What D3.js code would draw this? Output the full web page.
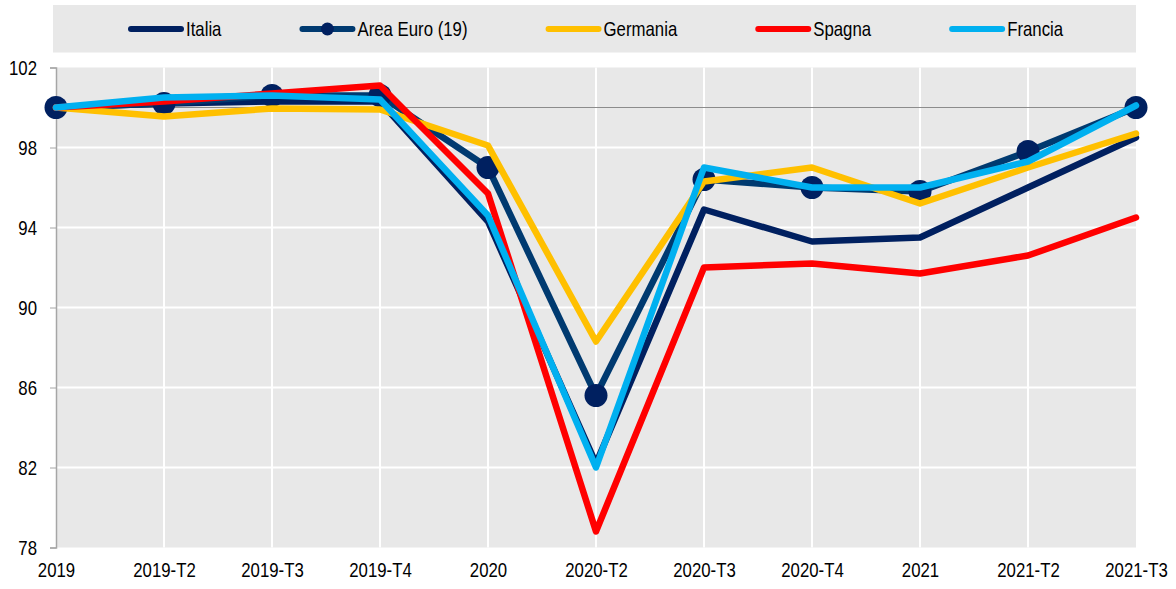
<!DOCTYPE html>
<html>
<head>
<meta charset="utf-8">
<script src="https://cdn.jsdelivr.net/npm/d3@7"></script>
<style>
  html, body { margin: 0; padding: 0; background: #fff; }
  svg text { font-family: "Liberation Sans", Arial, sans-serif; fill: #000; }
</style>
</head>
<body>
<div id="chart"></div>
<script>
// categories (quarters)
var categories = ['2019', '2019-T2', '2019-T3', '2019-T4', '2020', '2020-T2', '2020-T3', '2020-T4', '2021', '2021-T2', '2021-T3'];
// series values (index, 2019 = 100)
var italia    = [100, 100.2, 100.3, 100.3, 94.3, 82.2, 94.9, 93.3, 93.5, 96.0, 98.5];
var areaEuro  = [100, 100.2, 100.6, 100.6, 97.0, 85.6, 96.4, 96.0, 95.8, 97.8, 100.0];
var germania  = [100, 99.55, 99.95, 99.9, 98.1, 88.3, 96.3, 97.0, 95.2, 97.0, 98.7];
var spagna    = [100, 100.3, 100.7, 101.1, 95.7, 78.8, 92.0, 92.2, 91.7, 92.6, 94.5];
var francia   = [100, 100.5, 100.6, 100.4, 94.6, 82.0, 97.0, 96.0, 96.0, 97.3, 100.1];
// y ticks
var yTicks = [78, 82, 86, 90, 94, 98, 102];

var series = [
  {name: 'Italia', values: italia, color: '#002060', markers: false},
  {name: 'Area Euro (19)', values: areaEuro, color: '#003A70', markerColor: '#002060', markers: true},
  {name: 'Germania', values: germania, color: '#FFC000', markers: false},
  {name: 'Spagna', values: spagna, color: '#FF0000', markers: false},
  {name: 'Francia', values: francia, color: '#00B0F0', markers: false}
];

var width = 1176, height = 589;
var margin = {top: 67.5, right: 40, bottom: 41.5, left: 56};
var plotW = width - margin.left - margin.right;
var plotH = height - margin.top - margin.bottom;
var squeeze = 0.84; // the original labels use a narrow face

var svg = d3.select('#chart').append('svg')
  .attr('width', width)
  .attr('height', height);

// narrow the text horizontally around its anchor
function narrow(sel) {
  sel.each(function () {
    var t = d3.select(this);
    var tx = +t.attr('x') || 0;
    t.attr('x', 0)
      .attr('transform', 'translate(' + tx + ',0) scale(' + squeeze + ',1)');
  });
}

// legend background
svg.append('rect')
  .attr('x', 53).attr('y', 5)
  .attr('width', 1083).attr('height', 47.5)
  .attr('fill', '#E8E8E8');

var g = svg.append('g')
  .attr('transform', 'translate(' + margin.left + ',' + margin.top + ')');

var x = d3.scalePoint().domain(categories).range([0, plotW]);
var y = d3.scaleLinear().domain([78, 102]).range([plotH, 0]);

// plot background
g.append('rect')
  .attr('width', plotW).attr('height', plotH)
  .attr('fill', '#E8E8E8');

// gridlines
g.append('g').selectAll('line')
  .data(yTicks.filter(function (d) { return d > 78 && d < 102; }))
  .join('line')
  .attr('x1', 0).attr('x2', plotW)
  .attr('y1', function (d) { return y(d); })
  .attr('y2', function (d) { return y(d); })
  .attr('stroke', '#fff').attr('stroke-width', 2);

g.append('g').selectAll('line')
  .data(categories.slice(1, -1))
  .join('line')
  .attr('y1', 0).attr('y2', plotH)
  .attr('x1', function (d) { return x(d); })
  .attr('x2', function (d) { return x(d); })
  .attr('stroke', '#fff').attr('stroke-width', 2);

// reference line at 100
g.append('line')
  .attr('x1', 0).attr('x2', plotW)
  .attr('y1', y(100)).attr('y2', y(100))
  .attr('stroke', '#8C8C8C').attr('stroke-width', 1);

// y axis
var yAxis = g.append('g')
  .call(d3.axisLeft(y).tickValues(yTicks).tickSize(6).tickPadding(13));
yAxis.select('.domain').attr('stroke', '#A6A6A6').attr('stroke-width', 1.5);
yAxis.selectAll('.tick line').attr('stroke', '#A6A6A6');
yAxis.selectAll('.tick text').style('font-size', '20px').attr('dy', '0.36em').call(narrow);

// x axis labels
var xAxis = g.append('g')
  .attr('transform', 'translate(0,' + plotH + ')')
  .call(d3.axisBottom(x).tickSize(0).tickPadding(24));
xAxis.select('.domain').remove();
xAxis.selectAll('.tick text').style('font-size', '20px').attr('dy', '0.3em').call(narrow);

// lines
var line = d3.line()
  .x(function (d, i) { return x(categories[i]); })
  .y(function (d) { return y(d); });

series.forEach(function (s) {
  g.append('path')
    .datum(s.values)
    .attr('fill', 'none')
    .attr('stroke', s.color)
    .attr('stroke-width', 6.5)
    .attr('stroke-linejoin', 'round')
    .attr('stroke-linecap', 'round')
    .attr('d', line);
  if (s.markers) {
    g.append('g').selectAll('circle')
      .data(s.values)
      .join('circle')
      .attr('cx', function (d, i) { return x(categories[i]); })
      .attr('cy', function (d) { return y(d); })
      .attr('r', 11.5)
      .attr('fill', s.markerColor);
  }
});

// legend
var legend = svg.append('g').attr('transform', 'translate(0,29)');
var lx = 128;
series.forEach(function (s) {
  var item = legend.append('g').attr('transform', 'translate(' + lx + ',0)');
  item.append('line')
    .attr('x1', 3).attr('x2', 53)
    .attr('stroke', s.color)
    .attr('stroke-width', 6)
    .attr('stroke-linecap', 'round');
  if (s.markers) {
    item.append('circle').attr('cx', 28).attr('r', 6.5).attr('fill', s.markerColor);
  }
  var t = item.append('text')
    .attr('x', 58)
    .attr('dy', '0.36em')
    .style('font-size', '20px')
    .text(s.name)
    .call(narrow);
  lx += 58 + t.node().getComputedTextLength() * squeeze + 78;
});
</script>
</body>
</html>
